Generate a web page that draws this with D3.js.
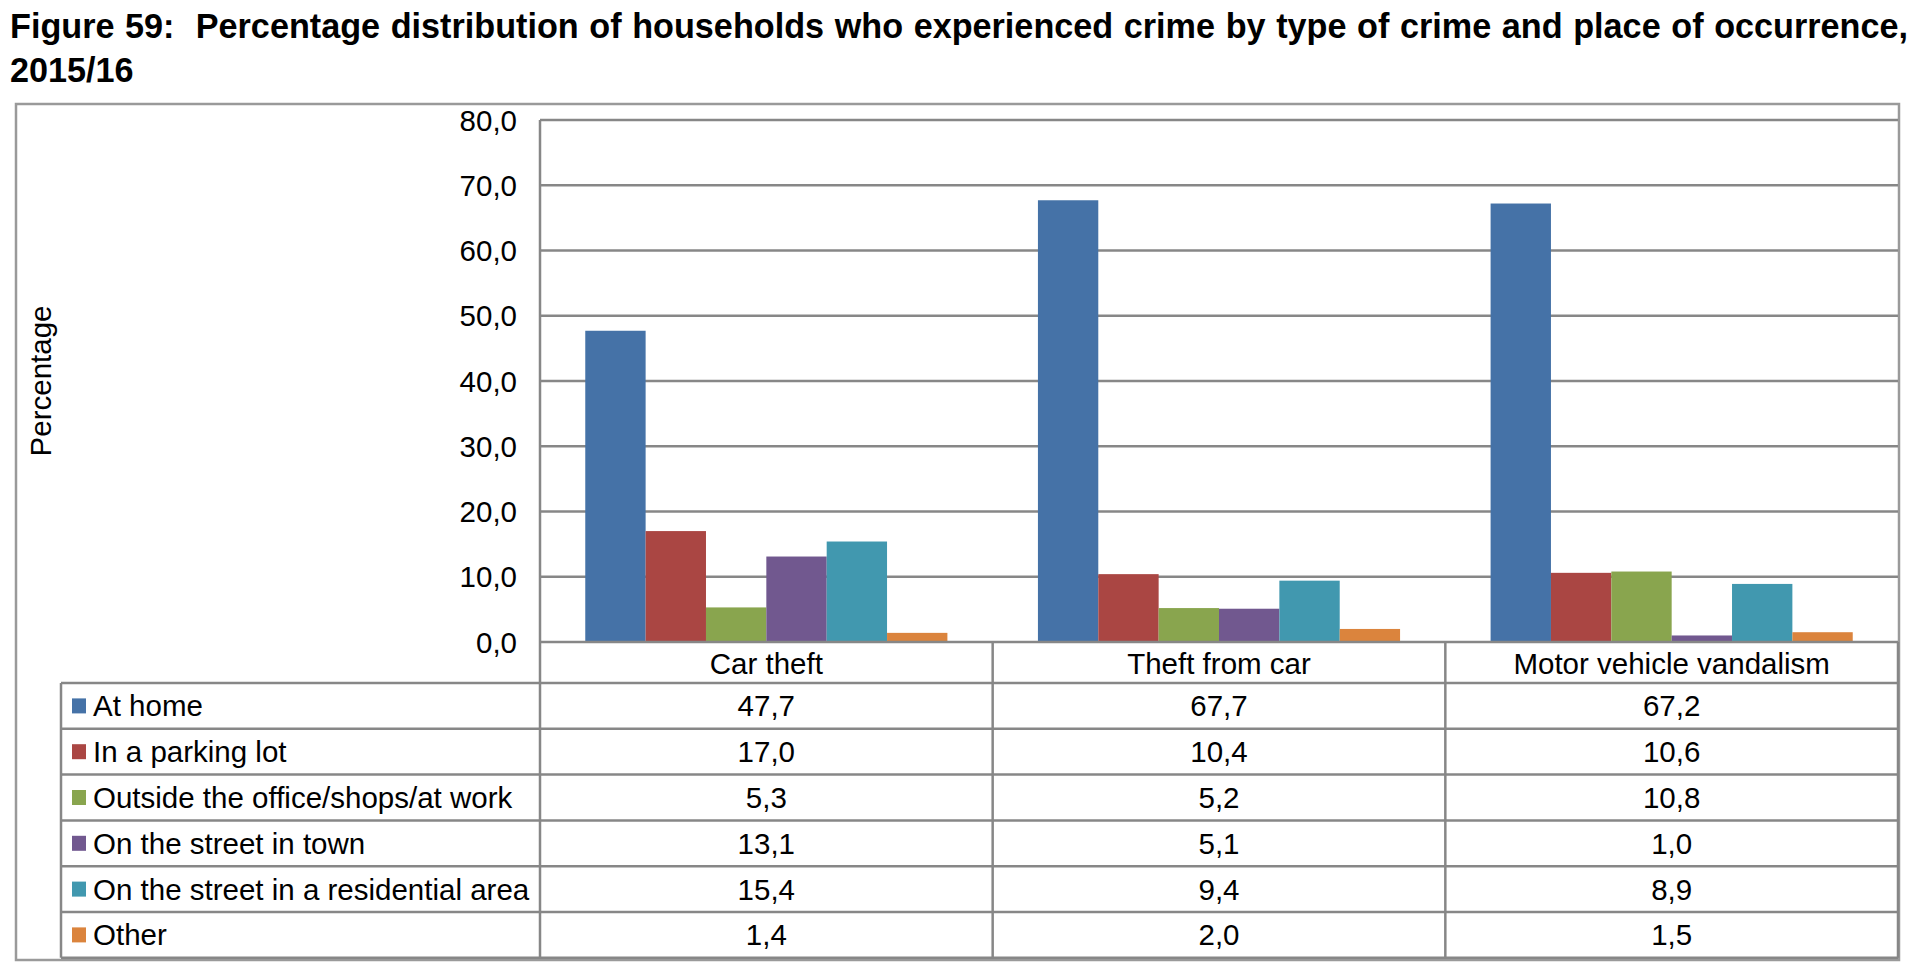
<html>
  <head>
    <meta charset='utf-8'>
    <script src='https://d3js.org/d3.v7.min.js'></script>
    <style>
      body { margin: 0; background: #fff; }
      text { font-family: 'Liberation Sans', Arial, sans-serif; fill: #000; }
    </style>
  </head>
  <body>
    <div id='chart'></div>
    <script>
        // data
        const categories = ['Car theft', 'Theft from car', 'Motor vehicle vandalism'];
        const places = ['At home', 'In a parking lot', 'Outside the office/shops/at work',
                        'On the street in town', 'On the street in a residential area', 'Other'];
        const atHome      = [47.7, 67.7, 67.2];
        const parkingLot  = [17.0, 10.4, 10.6];
        const outsideWork = [5.3, 5.2, 10.8];
        const streetTown  = [13.1, 5.1, 1.0];
        const streetResid = [15.4, 9.4, 8.9];
        const other       = [1.4, 2.0, 1.5];
        const yTicks = [0, 10, 20, 30, 40, 50, 60, 70, 80];
        const colors = ['#4572A7', '#AA4643', '#89A54E', '#71588F', '#4198AF', '#DB843D'];
        const titleLines = ['Figure 59:  Percentage distribution of households who experienced crime by type of crime and place of occurrence,',
                            '2015/16'];

        const series = [atHome, parkingLot, outsideWork, streetTown, streetResid, other];
        const grid = '#878787';
        const fs = '29.5px';
        const fmt = v => d3.format('.1f')(v).replace('.', ',');

        const svg = d3.select('#chart').append('svg')
                      .attr('width', 1920)
                      .attr('height', 970);

        // title, sized to run across the page like the justified original
        const t1 = svg.append('text')
                      .attr('x', 10).attr('y', 38)
                      .style('font-weight', 'bold').style('font-size', '26px')
                      .style('white-space', 'pre')
                      .text(titleLines[0]);
        const natural = t1.node().getComputedTextLength();
        const titleSize = 26 * 1880 / natural;
        t1.style('font-size', titleSize + 'px');
        const gaps = titleLines[0].split(' ').length - 1;
        t1.style('word-spacing', ((1898 - t1.node().getComputedTextLength()) / gaps) + 'px');
        svg.append('text')
           .attr('x', 10).attr('y', 82)
           .style('font-weight', 'bold').style('font-size', titleSize + 'px')
           .text(titleLines[1]);

        // outer frame
        svg.append('rect')
           .attr('x', 16).attr('y', 104)
           .attr('width', 1883).attr('height', 856)
           .attr('fill', 'none').attr('stroke', '#9a9a9a').attr('stroke-width', 2.5);

        const plotL = 540, plotR = 1898, plotT = 120, plotB = 642;
        const x0 = d3.scaleBand().domain(categories).range([plotL, plotR]);
        const x1 = d3.scaleBand().domain(d3.range(places.length))
                     .range([x0.bandwidth() * 0.1, x0.bandwidth() * 0.9]);
        const y = d3.scaleLinear().domain([0, 80]).range([plotB, plotT]);

        // gridlines
        svg.append('g').selectAll('line').data(yTicks.filter(d => d > 0)).join('line')
           .attr('x1', plotL).attr('x2', plotR)
           .attr('y1', d => y(d)).attr('y2', d => y(d))
           .attr('stroke', grid).attr('stroke-width', 2.5);

        // tick labels
        svg.append('g').selectAll('text').data(yTicks).join('text')
           .attr('x', 517).attr('y', d => y(d) + 10.5)
           .attr('text-anchor', 'end')
           .style('font-size', fs)
           .text(fmt);

        svg.append('text')
           .attr('transform', 'translate(51,381) rotate(-90)')
           .attr('text-anchor', 'middle')
           .style('font-size', fs)
           .text('Percentage');

        // bars
        const bars = svg.append('g');
        series.forEach((vals, i) => {
            bars.append('g').selectAll('rect').data(vals).join('rect')
                .attr('x', (d, j) => x0(categories[j]) + x1(i))
                .attr('width', x1.bandwidth())
                .attr('y', d => y(d))
                .attr('height', d => y(0) - y(d))
                .attr('fill', colors[i]);
        });

        // data table below the axis
        const tableL = 61, rowH = 45.8, headB = 683;
        const rowY = d3.scaleLinear().domain([0, places.length]).range([headB, headB + rowH * places.length]);
        const tbl = svg.append('g');

        tbl.append('line').attr('x1', plotL).attr('x2', plotR)
           .attr('y1', plotB).attr('y2', plotB);
        tbl.selectAll('.hline').data(d3.range(places.length + 1)).join('line')
           .attr('x1', tableL).attr('x2', plotR)
           .attr('y1', d => rowY(d)).attr('y2', d => rowY(d));
        tbl.append('line').attr('x1', plotL).attr('x2', plotL)
           .attr('y1', plotT).attr('y2', rowY(places.length));
        tbl.append('line').attr('x1', tableL).attr('x2', tableL)
           .attr('y1', headB).attr('y2', rowY(places.length));
        tbl.selectAll('.vline').data(categories).join('line')
           .attr('x1', d => x0(d) + x0.bandwidth()).attr('x2', d => x0(d) + x0.bandwidth())
           .attr('y1', plotB).attr('y2', rowY(places.length));
        tbl.selectAll('line').attr('stroke', grid).attr('stroke-width', 2.5);

        tbl.selectAll('.cat').data(categories).join('text')
           .attr('x', d => x0(d) + x0.bandwidth() / 2)
           .attr('y', 673.5)
           .attr('text-anchor', 'middle')
           .style('font-size', fs)
           .text(d => d);

        places.forEach((p, i) => {
            const cy = (rowY(i) + rowY(i + 1)) / 2;
            tbl.append('rect')
               .attr('x', 72).attr('y', cy - 7.5)
               .attr('width', 14).attr('height', 15)
               .attr('fill', colors[i]);
            tbl.append('text')
               .attr('x', 93).attr('y', cy + 10.5)
               .style('font-size', fs)
               .text(p);
            tbl.append('g').selectAll('text').data(series[i]).join('text')
               .attr('x', (d, j) => x0(categories[j]) + x0.bandwidth() / 2)
               .attr('y', cy + 10.5)
               .attr('text-anchor', 'middle')
               .style('font-size', fs)
               .text(fmt);
        });
    </script>
  </body>
</html>
